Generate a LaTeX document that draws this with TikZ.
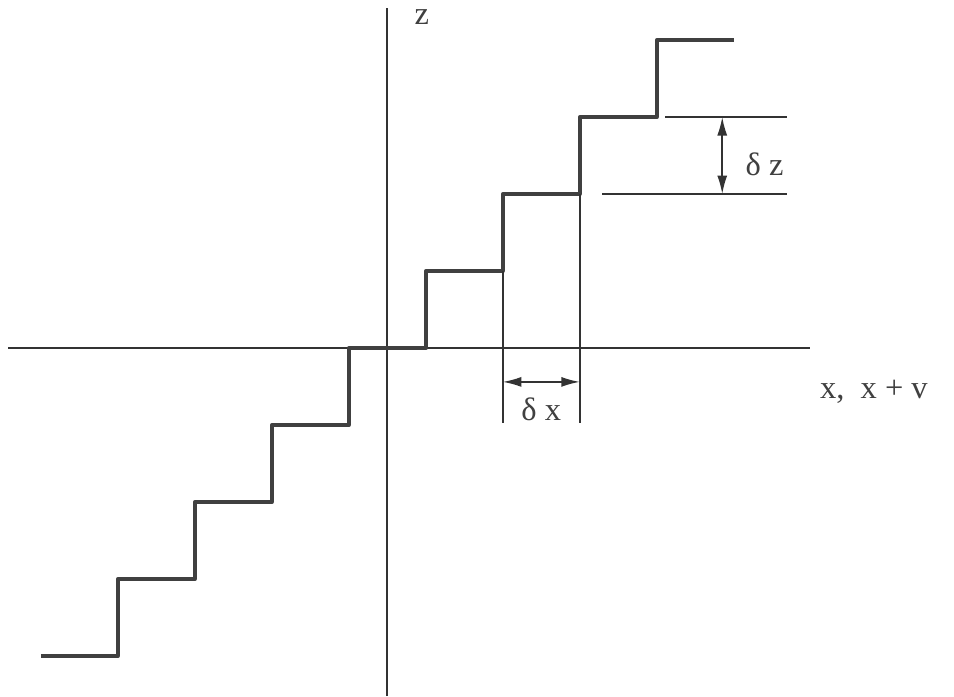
\documentclass[tikz,border=0pt]{standalone}
\usepackage{fontspec}
\newfontfamily\labfont{Liberation Serif}
\usetikzlibrary{arrows.meta}
\begin{document}
\begin{tikzpicture}[
		axis/.style={line width=0.6pt, black!80},
		stair/.style={line width=1.4pt, black!75, line join=round},
		ext/.style={line width=0.6pt, black!80},
		dim/.style={line width=0.6pt, black!80, {Latex[length=2.4mm,width=1.3mm]}-{Latex[length=2.4mm,width=1.3mm]}},
		lbl/.style={font=\labfont\large, text=black!75}
	]
		\useasboundingbox (-5.03, -4.52) rectangle (7.36, 4.52);

		\draw[axis] (-4.92, 0) -- (5.49, 0);
		\draw[axis] (0, -4.52) -- (0, 4.42);
		\node[lbl] (zlab) at (0.45, 4.3) {z};
		\node[lbl] (xlab) at (6.32, -0.57) {x,\ \ x + v};

		\draw[stair] (-4.5, -4) -- (-3.5, -4) -- (-3.5, -3) -- (-2.5, -3) -- (-2.5, -2) -- (-1.5, -2) -- (-1.5, -1)
			-- (-0.5, -1) -- (-0.5, 0) -- (0.5, 0) -- (0.5, 1) -- (1.5, 1) -- (1.5, 2) -- (2.5, 2) -- (2.5, 3)
			-- (3.5, 3) -- (3.5, 4) -- (4.5, 4);

		% delta x
		\coordinate (xa) at (1.5, -0.44);
		\coordinate (xb) at (2.5, -0.44);
		\draw[ext] (1.5, 1) -- (1.5, -0.97);
		\draw[ext] (2.5, 2) -- (2.5, -0.97);
		\draw[dim] (xa) -- (xb);
		\node[lbl] (dx) at (2.0, -0.8) {δ x};

		% delta z
		\coordinate (za) at (4.35, 3);
		\coordinate (zb) at (4.35, 2);
		\draw[ext] (3.61, 3) -- (5.19, 3);
		\draw[ext] (2.79, 2) -- (5.19, 2);
		\draw[dim] (za) -- (zb);
		\node[lbl] (dz) at (4.9, 2.38) {δ z};
	\end{tikzpicture}
\end{document}
